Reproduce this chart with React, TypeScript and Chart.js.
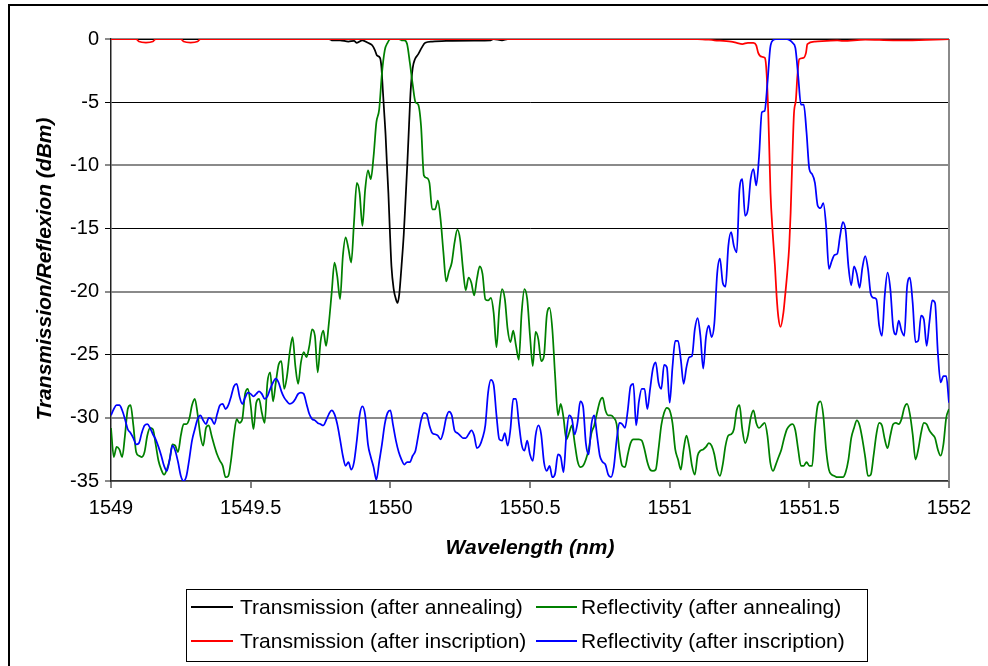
import React, { useEffect, useRef } from 'react';
import { Chart, registerables } from 'chart.js';

Chart.register(...registerables);

// ---------- data ----------
const START_NM = 1549;
const STEP_NM = 0.01;

const SERIES_LABELS = [
  'Transmission (after annealing)',
  'Reflectivity (after annealing)',
  'Transmission (after inscription)',
  'Reflectivity (after inscription)',
];
const SERIES_COLORS = ['#000000', '#008000', '#ff0000', '#0000ff'];

// Reflectivity (after annealing), sampled every 0.01 nm from 1549.00 to 1552.00
const REFLECTIVITY_ANNEALING = [
  -30.8, -33.1, -32.3, -32.5, -33.1, -31.4, -29.3, -29.0, -30.6, -32.7,
  -33.0, -33.1, -32.7, -31.4, -30.8, -30.9, -32.1, -33.4, -34.1, -34.5,
  -34.1, -33.3, -32.1, -32.2, -32.7, -31.4, -30.5, -30.5, -30.1, -29.0,
  -28.5, -29.7, -31.4, -32.2, -30.8, -30.6, -31.4, -32.2, -32.9, -33.4,
  -33.8, -34.7, -34.6, -33.3, -31.4, -30.1, -30.4, -30.1, -28.1, -27.7,
  -29.0, -30.9, -28.8, -28.5, -29.6, -30.4, -27.2, -26.4, -28.7, -27.2,
  -25.8, -25.5, -27.7, -26.7, -24.8, -23.6, -25.9, -27.3, -25.6, -24.8,
  -25.2, -24.3, -23.0, -23.5, -26.4, -24.0, -23.1, -24.3, -22.5, -20.1,
  -17.7, -18.8, -20.6, -17.2, -15.7, -16.6, -17.7, -14.5, -11.4, -12.2,
  -14.8, -11.9, -10.4, -11.1, -9.3, -6.6, -5.6, -2.7, -0.9, -0.3,
  0.0, 0.0, 0.0, 0.0, -0.1, -0.1, -0.4, -1.9, -3.6, -5.0,
  -5.2, -6.9, -10.8, -11.0, -11.4, -13.5, -13.5, -12.8, -14.3, -16.9,
  -19.2, -18.4, -17.7, -16.1, -15.1, -15.9, -18.2, -19.9, -18.9, -19.3,
  -20.3, -19.0, -18.0, -18.6, -20.6, -20.7, -20.5, -21.7, -24.4, -21.4,
  -19.8, -20.6, -23.0, -24.0, -23.1, -24.3, -25.4, -21.7, -19.8, -20.6,
  -23.5, -25.9, -23.2, -23.8, -25.5, -25.1, -21.9, -21.3, -23.0, -26.7,
  -29.8, -28.9, -30.0, -31.7, -31.2, -30.6, -32.0, -33.4, -33.9, -33.8,
  -33.3, -32.5, -31.2, -30.6, -29.6, -28.7, -28.4, -29.4, -29.8, -29.8,
  -30.0, -30.5, -32.6, -33.8, -33.9, -32.9, -32.0, -31.7, -31.7, -31.7,
  -31.8, -32.5, -33.5, -34.1, -34.2, -34.1, -32.5, -30.6, -29.6, -29.2,
  -29.4, -30.4, -32.5, -33.3, -34.1, -32.5, -31.4, -32.3, -33.8, -34.5,
  -33.0, -32.6, -32.5, -32.3, -32.0, -32.2, -32.9, -34.1, -34.6, -33.7,
  -32.2, -31.4, -31.3, -30.9, -29.4, -29.0, -30.9, -32.0, -31.4, -30.0,
  -29.4, -30.4, -30.8, -30.6, -30.4, -31.4, -33.5, -34.2, -33.7, -33.1,
  -32.5, -31.6, -30.9, -30.6, -30.5, -31.0, -32.5, -33.8, -33.8, -33.5,
  -33.8, -33.8, -30.9, -29.0, -28.7, -29.8, -32.5, -34.1, -34.5, -34.6,
  -34.7, -34.7, -34.7, -34.3, -33.3, -31.6, -30.8, -30.2, -30.6, -31.7,
  -33.1, -34.6, -34.5, -33.0, -31.3, -30.4, -30.6, -31.7, -32.4, -31.4,
  -30.5, -30.4, -30.5, -30.1, -29.2, -28.9, -29.7, -31.3, -33.3, -32.5,
  -31.2, -30.4, -30.5, -31.0, -31.3, -31.6, -32.5, -33.0, -32.1, -30.0,
  -29.3,
];

// Reflectivity (after inscription), sampled every 0.01 nm from 1549.00 to 1552.00
const REFLECTIVITY_INSCRIPTION = [
  -29.8, -29.3, -29.0, -29.0, -29.4, -30.1, -30.9, -31.2, -31.6, -32.1,
  -32.0, -31.2, -30.6, -30.5, -30.8, -31.3, -31.7, -32.3, -33.0, -33.8,
  -34.2, -33.3, -32.2, -32.6, -33.5, -34.6, -35.0, -34.6, -33.3, -31.8,
  -30.9, -30.1, -29.8, -30.2, -30.5, -30.0, -30.1, -30.5, -29.7, -29.0,
  -28.9, -29.3, -29.0, -28.3, -27.5, -27.3, -28.3, -28.9, -28.4, -28.0,
  -28.1, -28.3, -28.1, -27.9, -28.1, -28.5, -28.3, -27.7, -27.2, -26.9,
  -27.2, -27.9, -28.4, -28.7, -28.9, -28.8, -28.5, -28.1, -28.0, -28.1,
  -28.9, -29.7, -30.1, -30.2, -30.4, -30.5, -30.6, -30.2, -29.7, -29.4,
  -29.7, -30.5, -31.7, -33.0, -33.8, -33.5, -34.1, -33.5, -31.8, -29.8,
  -29.1, -29.8, -32.1, -33.1, -33.9, -34.9, -33.5, -32.1, -30.5, -29.6,
  -29.4, -30.6, -31.8, -32.7, -33.3, -33.7, -33.5, -33.5, -33.0, -32.6,
  -31.4, -30.2, -29.6, -29.7, -30.6, -31.2, -31.3, -31.4, -31.7, -31.1,
  -30.0, -29.5, -29.8, -31.0, -31.2, -31.4, -31.6, -31.6, -31.3, -31.0,
  -31.4, -32.4, -32.2, -31.6, -30.6, -28.0, -27.0, -27.4, -29.8, -31.7,
  -31.8, -31.2, -32.2, -30.9, -28.5, -28.5, -30.4, -32.1, -32.6, -31.8,
  -32.9, -33.4, -31.4, -30.6, -31.3, -33.5, -34.2, -33.8, -34.7, -34.4,
  -32.9, -33.1, -34.3, -31.4, -29.8, -30.1, -31.3, -30.4, -28.7, -29.1,
  -32.0, -32.9, -30.5, -29.8, -31.4, -33.0, -33.5, -33.7, -34.5, -34.7,
  -33.9, -31.8, -30.4, -30.5, -30.8, -29.4, -27.5, -27.3, -30.6, -28.7,
  -27.7, -27.7, -29.3, -27.7, -26.1, -25.6, -27.2, -27.7, -25.8, -26.0,
  -28.8, -26.0, -23.9, -23.9, -25.4, -27.3, -26.0, -25.2, -25.1, -23.0,
  -22.1, -23.5, -26.1, -23.6, -22.7, -23.6, -22.5, -18.6, -17.4, -19.3,
  -19.6, -16.4, -15.3, -16.4, -16.9, -11.9, -11.1, -14.0, -13.5, -11.1,
  -10.3, -11.6, -9.3, -5.8, -5.7, -3.5, -0.7, -0.1, 0.0, 0.0,
  0.0, 0.0, 0.0, -0.1, -0.3, -0.7, -2.9, -5.2, -5.2, -7.4,
  -10.3, -10.7, -11.4, -13.2, -13.4, -13.0, -14.8, -18.2, -17.6, -17.1,
  -17.0, -15.6, -14.5, -15.2, -18.0, -19.5, -18.0, -18.6, -19.7, -18.1,
  -17.2, -18.2, -20.2, -20.5, -20.6, -22.7, -23.5, -20.3, -18.5, -19.8,
  -22.8, -23.4, -22.3, -23.1, -23.5, -19.6, -18.9, -20.9, -24.0, -23.9,
  -21.9, -22.2, -24.3, -22.4, -20.7, -20.9, -24.8, -27.2, -26.7, -26.7,
  -28.8,
];

// Transmission (after annealing): wavelength (nm) / level (dBm)
const TRANS_ANNEALING_NM = [
  1549.0, 1549.78, 1549.79, 1549.82, 1549.85, 1549.87, 1549.88, 1549.9, 1549.92,
  1549.935, 1549.945, 1549.952, 1549.963, 1549.968, 1549.973, 1549.978, 1549.983,
  1549.988, 1549.993, 1549.998, 1550.004, 1550.012, 1550.02, 1550.026, 1550.032,
  1550.04, 1550.048, 1550.055, 1550.061, 1550.067, 1550.073, 1550.08, 1550.088,
  1550.1, 1550.112, 1550.125, 1550.15, 1550.2, 1550.3, 1550.36, 1550.37, 1550.4,
  1550.42, 1552.0,
];
const TRANS_ANNEALING_DB = [
  0, 0, -0.1, -0.1, -0.2, -0.15, -0.3, -0.1, -0.3,
  -0.5, -0.9, -1.3, -1.5, -2.2, -4.0, -5.8, -7.6,
  -10.0, -12.2, -15.0, -18.0, -19.8, -20.6, -20.9, -20.2,
  -18.0, -15.5, -12.5, -9.8, -6.8, -4.0, -2.3, -1.6,
  -1.2, -0.7, -0.3, -0.2, -0.15, -0.12, -0.1, 0, -0.1,
  0, 0,
];

// Transmission (after inscription): wavelength (nm) / level (dBm)
const TRANS_INSCRIPTION_NM = [
  1549.0, 1549.09, 1549.1, 1549.125, 1549.15, 1549.16, 1549.25, 1549.26, 1549.285,
  1549.31, 1549.32,
  1551.1, 1551.16, 1551.22, 1551.24, 1551.26, 1551.28, 1551.3, 1551.31, 1551.317,
  1551.329, 1551.341, 1551.347, 1551.353, 1551.357, 1551.361, 1551.369, 1551.377,
  1551.383, 1551.389, 1551.397, 1551.407, 1551.413, 1551.421, 1551.428, 1551.433,
  1551.439, 1551.445, 1551.452, 1551.457, 1551.464, 1551.479, 1551.488, 1551.493,
  1551.52, 1551.6, 1551.62, 1551.7, 1551.8, 1551.85, 1552.0,
];
const TRANS_INSCRIPTION_DB = [
  0, 0, -0.2, -0.28, -0.2, 0, 0, -0.2, -0.28,
  -0.2, 0,
  0, -0.1, -0.2, -0.3, -0.4, -0.3, -0.3, -0.5, -1.1,
  -1.4, -1.5, -2.7, -5.9, -9.0, -12.2, -15.4, -18.0,
  -20.4, -22.0, -22.8, -21.7, -20.4, -18.5, -16.4, -13.8,
  -9.6, -5.9, -4.8, -3.0, -1.6, -1.5, -1.1, -0.4,
  -0.2, -0.1, -0.15, -0.05, -0.1, -0.1, 0,
];

const X_TICKS = [1549, 1549.5, 1550, 1550.5, 1551, 1551.5, 1552];
const Y_TICKS = [0, -5, -10, -15, -20, -25, -30, -35];
const X_TITLE = 'Wavelength (nm)';
const Y_TITLE = 'Transmission/Reflexion (dBm)';

// ---------- helpers ----------
const FONT = "'Liberation Sans', Arial, Helvetica, sans-serif";

const gridWavelength = (n: number) =>
  Array.from({ length: n }, (_, i) => Math.round((START_NM + i * STEP_NM) * 1000) / 1000);

const toPoints = (xs: number[], ys: number[]) => xs.map((x, i) => ({ x, y: ys[i] }));

const DARK_GRID = [-5, -15, -25];

const decorPlugin = {
  id: 'decor',
  beforeDraw(chart: any) {
    const { ctx, width, height } = chart;
    ctx.save();
    ctx.fillStyle = '#ffffff';
    ctx.fillRect(0, 0, width, height);
    ctx.restore();
  },
  beforeDatasetsDraw(chart: any) {
    const { ctx, chartArea } = chart;
    ctx.save();
    ctx.strokeStyle = '#8a8a8a';
    ctx.lineWidth = 2;
    ctx.beginPath();
    ctx.moveTo(chartArea.right, chartArea.top);
    ctx.lineTo(chartArea.right, chartArea.bottom);
    ctx.stroke();
    ctx.restore();
  },
  afterDraw(chart: any) {
    const { ctx, chartArea, width, height } = chart;
    ctx.save();
    // outer frame (left and top edges visible)
    ctx.strokeStyle = '#000';
    ctx.lineWidth = 2;
    ctx.beginPath();
    ctx.moveTo(9, height);
    ctx.lineTo(9, 5);
    ctx.lineTo(width, 5);
    ctx.stroke();

    // y axis title
    ctx.save();
    ctx.translate(45, (chartArea.top + chartArea.bottom) / 2 + 9);
    ctx.rotate(-Math.PI / 2);
    ctx.font = `italic bold 21px ${FONT}`;
    ctx.textAlign = 'center';
    ctx.textBaseline = 'middle';
    ctx.fillStyle = '#000';
    ctx.fillText(Y_TITLE, 0, 0);
    ctx.restore();

    // legend box
    ctx.lineWidth = 1;
    ctx.strokeStyle = '#000';
    ctx.strokeRect(186.5, 589.5, 681, 72);
    ctx.font = `21px ${FONT}`;
    ctx.textBaseline = 'middle';
    ctx.textAlign = 'left';
    ctx.fillStyle = '#000';
    const lineX = [[191, 233], [536, 577]];
    const textX = [240, 581];
    const rowY = [607, 641];
    chart.data.datasets.forEach((ds: any, i: number) => {
      const col = i % 2;
      const row = Math.floor(i / 2);
      const y = rowY[row];
      ctx.strokeStyle = ds.borderColor;
      ctx.lineWidth = 2;
      ctx.beginPath();
      ctx.moveTo(lineX[col][0], y);
      ctx.lineTo(lineX[col][1], y);
      ctx.stroke();
      ctx.fillText(ds.label, textX[col], y + 1);
    });
    ctx.restore();
  },
};

export default function App() {
  const canvasRef = useRef<HTMLCanvasElement | null>(null);

  useEffect(() => {
    const canvas = canvasRef.current;
    if (!canvas) return;
    const wl = gridWavelength(REFLECTIVITY_ANNEALING.length);

    const datasets = [
      { data: toPoints(TRANS_ANNEALING_NM, TRANS_ANNEALING_DB), order: 4 },
      { data: toPoints(wl, REFLECTIVITY_ANNEALING), order: 3 },
      { data: toPoints(TRANS_INSCRIPTION_NM, TRANS_INSCRIPTION_DB), order: 2 },
      { data: toPoints(wl, REFLECTIVITY_INSCRIPTION), order: 1 },
    ].map((d, i) => ({
      label: SERIES_LABELS[i],
      data: d.data,
      order: d.order,
      borderColor: SERIES_COLORS[i],
      backgroundColor: SERIES_COLORS[i],
      borderWidth: 1.75,
      pointRadius: 0,
      cubicInterpolationMode: 'monotone',
      fill: false,
    }));

    const chart = new Chart(canvas, {
      type: 'line',
      data: { datasets },
      plugins: [decorPlugin],
      options: {
        responsive: false,
        animation: false,
        devicePixelRatio: 1,
        layout: { padding: { left: 0, top: 39, right: 39, bottom: 0 } },
        plugins: {
          legend: { display: false },
          tooltip: { enabled: false },
        },
        scales: {
          x: {
            type: 'linear',
            min: 1549,
            max: 1552,
            afterFit: (s: any) => {
              s.height = 185;
            },
            afterBuildTicks: (s: any) => {
              s.ticks = X_TICKS.map((v) => ({ value: v }));
            },
            ticks: {
              color: '#000',
              font: { family: FONT, size: 20 },
              padding: 8,
              maxRotation: 0,
              autoSkip: false,
              callback: (v: any) => String(v),
            },
            grid: {
              color: (c: any) => (c.index === X_TICKS.length - 1 ? '#8a8a8a' : 'rgba(0,0,0,0)'),
              lineWidth: 2,
              tickColor: '#000',
              tickWidth: 1,
              tickLength: 7,
            },
            border: { display: true, color: '#333', width: 1.5 },
            title: {
              display: true,
              text: X_TITLE,
              color: '#000',
              font: { family: FONT, size: 21, weight: 'bold', style: 'italic' },
              padding: { top: 4, bottom: 105 },
            },
          },
          y: {
            type: 'linear',
            min: -35,
            max: 0,
            afterFit: (s: any) => {
              s.width = 111;
            },
            afterBuildTicks: (s: any) => {
              s.ticks = Y_TICKS.map((v) => ({ value: v }));
            },
            ticks: {
              color: '#000',
              font: { family: FONT, size: 20 },
              padding: 6,
              autoSkip: false,
              callback: (v: any) => String(v),
            },
            grid: {
              color: (c: any) => (c.tick && DARK_GRID.includes(c.tick.value) ? '#000' : '#8a8a8a'),
              lineWidth: (c: any) => (c.tick && DARK_GRID.includes(c.tick.value) ? 1 : 2),
              tickLength: 6,
            },
            border: { display: true, color: '#222', width: 1.5 },
            title: { display: false },
          },
        },
      } as any,
    });

    return () => chart.destroy();
  }, []);

  return (
    <div style={{ position: 'absolute', left: 0, top: 0, width: 988, height: 666, background: '#fff' }}>
      <canvas ref={canvasRef} width={988} height={666} style={{ display: 'block', width: 988, height: 666 }} />
    </div>
  );
}
